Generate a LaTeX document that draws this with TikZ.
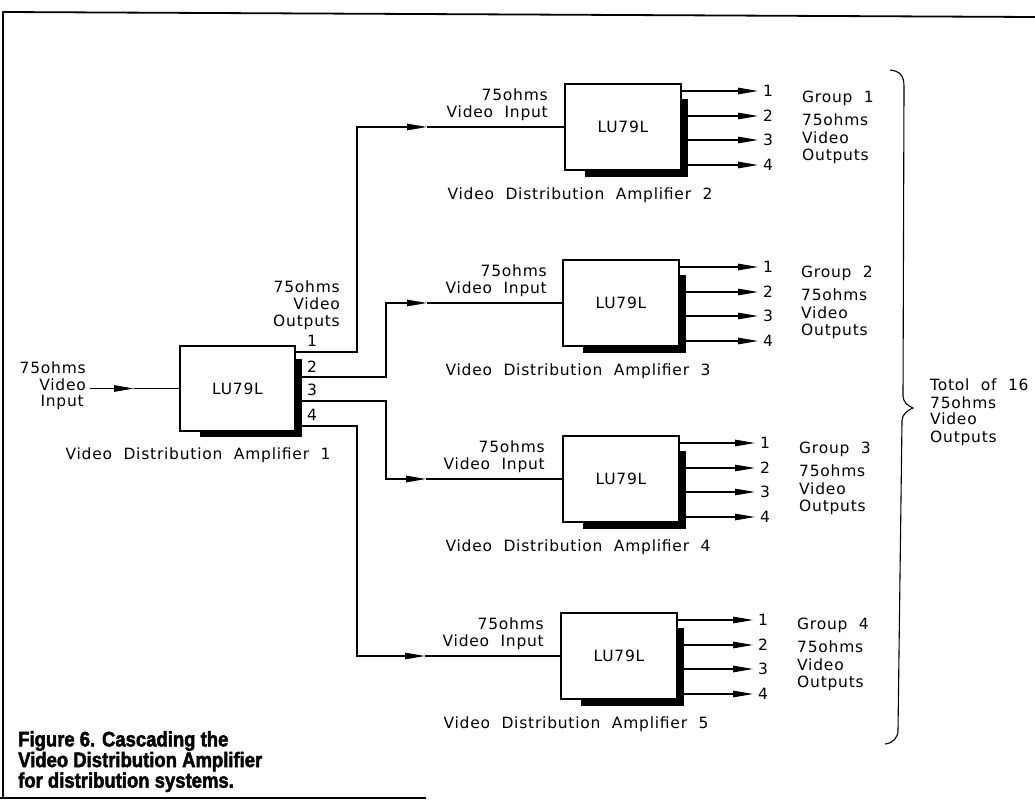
\documentclass[tikz,border=0pt]{standalone}
\usepackage{fontspec}
\setmainfont{DejaVu Sans}
\newfontfamily\cadfamily[LetterSpace=5,WordSpace=2]{DejaVu Sans}
\newfontfamily\capfamily[FakeStretch=0.88,BoldFeatures={FakeBold=2.2}]{Liberation Sans}
\usetikzlibrary{arrows.meta}
\begin{document}
\begin{tikzpicture}[x=1pt,y=-1pt,
  cad/.style={font=\cadfamily\fontsize{15.5}{17}\selectfont, inner sep=0pt},
  ampbox/.style={draw, fill=white, line width=1.1pt, minimum width=116pt, minimum height=86pt, inner sep=0pt, cad},
  wire/.style={line width=1.1pt},
  arr/.style={wire, -{Triangle[length=20pt,width=6.5pt]}},
  shade/.style={fill=black},
  frame/.style={line width=1.8pt},
  captext/.style={font=\capfamily\bfseries\fontsize{21}{19.5}\selectfont, inner sep=0pt, align=left}]
\useasboundingbox (0,0) rectangle (1035,800);
% frame
\coordinate (FL) at (3,798);
\coordinate (FTL) at (3,12);
\coordinate (FTR) at (1035,17);
\coordinate (FB1) at (0,798);
\coordinate (FB2) at (426,798);
\draw[frame] (FL) -- (FTL) -- (FTR);
\draw[frame] (FB1) -- (FB2);
% amplifier 1
\fill[shade] (200,359) rectangle (302,437);
\node[ampbox, minimum width=115pt, minimum height=85pt] (A1) at (237.5,388.5) {LU79L};
\node[cad, anchor=base] (A1lab) at (198,459.7) {Video Distribution Amplifier 1};
\node[cad, anchor=base east] (IN1) at (86,373.7) {75ohms};
\node[cad, anchor=base east] (IN2) at (86,390.7) {Video};
\node[cad, anchor=base east] (IN3) at (84,406.7) {Input};
\coordinate (IN) at (90,388.5);
\coordinate (INt) at (134,388.5);
\draw[arr] (IN) -- (INt);
\draw[wire] (INt) -- (A1.west);
\node[cad, anchor=base east] (OL1) at (340,292.7) {75ohms};
\node[cad, anchor=base east] (OL2) at (340,309.7) {Video};
\node[cad, anchor=base east] (OL3) at (340,326.7) {Outputs};
\foreach \k/\y in {1/341,2/367,3/390,4/415}{
  \node[cad] (A1-n\k) at (312,\y) {\k};
}
\coordinate (A1-o1) at (295,352);
\coordinate (A1-o2) at (295,377);
\coordinate (A1-o3) at (295,401);
\coordinate (A1-o4) at (295,426);
% amplifiers 2-5
\foreach \n/\l/\t/\ir/\ox/\gx/\gy/\g in {2/565/84/548/768/802/97/1, 3/563/260/547/768/801/272/2, 4/563/436/545/765/799/448/3, 5/561/613/544/763/797/624/4}{
  \fill[shade] (\l+20,\t+15) rectangle (\l+123,\t+93);
  \node[ampbox] (A\n) at (\l+58,\t+43) {LU79L};
  \node[cad, anchor=base] (A\n-lab) at (\l+15,\t+115.7) {Video Distribution Amplifier \n};
  \node[cad, anchor=base east] (A\n-in1) at (\ir,\t+16.7) {75ohms};
  \node[cad, anchor=base east] (A\n-in2) at (\ir,\t+33.7) {Video Input};
  \foreach \k/\dy in {1/7,2/32,3/56,4/81}{
    \coordinate (A\n-o\k) at (\l+116,\t+\dy);
    \coordinate (A\n-t\k) at (\ox-10,\t+\dy);
    \draw[arr] (A\n-o\k) -- (A\n-t\k);
    \node[cad] (A\n-n\k) at (\ox,\t+\dy) {\k};
  }
  \node[cad, anchor=base west] (G\g-a) at (\gx,\gy+5.7) {Group \g};
  \node[cad, anchor=base west] (G\g-b) at (\gx,\gy+28.7) {75ohms};
  \node[cad, anchor=base west] (G\g-c) at (\gx,\gy+46.7) {Video};
  \node[cad, anchor=base west] (G\g-d) at (\gx,\gy+63.7) {Outputs};
}
% connections from amplifier 1
\coordinate (J2) at (357,127);  \coordinate (T2) at (427,127);
\coordinate (J3) at (386,303);  \coordinate (T3) at (427,303);
\coordinate (J4) at (386,479);  \coordinate (T4) at (426,479);
\coordinate (J5) at (357,656);  \coordinate (T5) at (425,656);
\draw[arr] (A1-o1) -| (J2) -- (T2);
\draw[wire] (T2) -- (A2.west);
\draw[arr] (A1-o2) -| (J3) -- (T3);
\draw[wire] (T3) -- (A3.west);
\draw[arr] (A1-o3) -| (J4) -- (T4);
\draw[wire] (T4) -- (A4.west);
\draw[arr] (A1-o4) -| (J5) -- (T5);
\draw[wire] (T5) -- (A5.west);
% brace
\draw[wire] (890,70) .. controls (900,71) and (904,76) .. (904,86) -- (903,396)
  .. controls (903,402) and (908,406) .. (913,408)
  .. controls (908,410) and (902,414) .. (902,421) -- (898,730)
  .. controls (898,738) and (893,743) .. (885,744);
\node[cad, anchor=base west] (TT1) at (930,390.7) {Totol of 16};
\node[cad, anchor=base west] (TT2) at (930,408.7) {75ohms};
\node[cad, anchor=base west] (TT3) at (930,424.7) {Video};
\node[cad, anchor=base west] (TT4) at (930,442.7) {Outputs};
% caption
\node[captext, anchor=north west] (CAP) at (18,731) {Figure 6. Cascading the\\Video Distribution Amplifier\\for distribution systems.};
\end{tikzpicture}
\end{document}
